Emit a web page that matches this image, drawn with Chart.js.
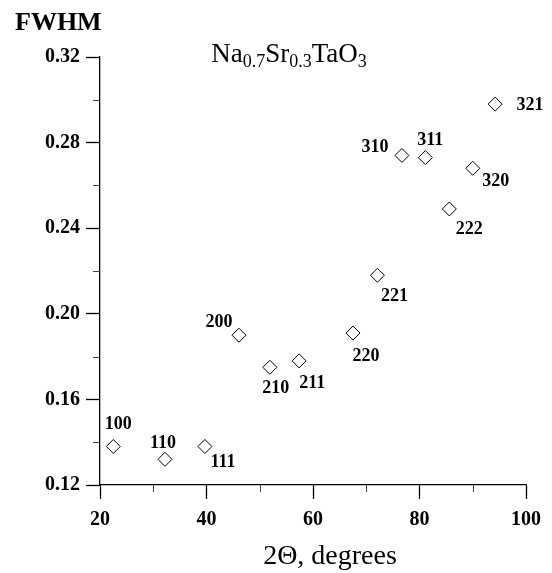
<!DOCTYPE html>
<html>
<head>
<meta charset="utf-8">
<script src="https://cdn.jsdelivr.net/npm/chart.js@4.4.1/dist/chart.umd.min.js"></script>
<style>
  html, body { margin: 0; padding: 0; background: #fff; }
  #wrap { width: 552px; height: 573px; position: relative; }
</style>
</head>
<body>
<div id="wrap"><canvas id="fwhmChart"></canvas></div>
<script>
// Reflection data
const reflections = ["100", "110", "111", "200", "210", "211", "220", "221", "310", "311", "222", "320", "321"];
const twoTheta = [22.5, 32.2, 39.7, 46.1, 51.9, 57.4, 67.5, 72.1, 76.7, 81.1, 85.6, 90.0, 94.2];
const fwhm = [0.138, 0.132, 0.138, 0.190, 0.175, 0.178, 0.191, 0.218, 0.274, 0.273, 0.249, 0.268, 0.298];

// Axis ticks
const xTicks = [20, 40, 60, 80, 100];
const xMinorTicks = [30, 50, 70, 90];
const yTicks = [0.12, 0.16, 0.20, 0.24, 0.28, 0.32];
const yMinorTicks = [0.14, 0.18, 0.22, 0.26, 0.30];

// Label offsets (pixels from the marker centre)
const labelOffsets = [
    [5, -22], [-2, -16], [18, 16], [-20, -13], [6, 21], [13, 22], [13, 23],
    [17, 21], [-27, -8], [5, -17], [20, 20], [23, 13], [35, 1]
];

const SERIF = '"Liberation Serif", "Times New Roman", serif';

// Minor ticks, point labels and titles
const decorPlugin = {
    id: 'decor',
    afterDraw(chart) {
        const ctx = chart.ctx;
        const xs = chart.scales.x, ys = chart.scales.y;
        const area = chart.chartArea;

        ctx.save();
        ctx.strokeStyle = '#444';
        ctx.lineWidth = 1;
        ctx.beginPath();
        xMinorTicks.forEach(v => {
            const px = Math.round(xs.getPixelForValue(v)) + 0.5;
            ctx.moveTo(px, area.bottom);
            ctx.lineTo(px, area.bottom + 7);
        });
        yMinorTicks.forEach(v => {
            const py = Math.round(ys.getPixelForValue(v)) + 0.5;
            ctx.moveTo(area.left, py);
            ctx.lineTo(area.left - 7, py);
        });
        ctx.stroke();

        // point labels
        const meta = chart.getDatasetMeta(0);
        ctx.fillStyle = '#000';
        ctx.font = 'bold 18px ' + SERIF;
        ctx.textAlign = 'center';
        ctx.textBaseline = 'middle';
        meta.data.forEach((pt, i) => {
            ctx.fillText(reflections[i], pt.x + labelOffsets[i][0], pt.y + labelOffsets[i][1]);
        });

        // y axis title
        ctx.font = 'bold 26px ' + SERIF;
        ctx.textAlign = 'left';
        ctx.textBaseline = 'alphabetic';
        ctx.fillText('FWHM', 15, 30);

        // x axis title
        ctx.font = '28px ' + SERIF;
        ctx.textAlign = 'center';
        ctx.fillText('2\u0398, degrees', 330, 564);

        // compound formula with subscripts
        const parts = [["Na", false], ["0.7", true], ["Sr", false], ["0.3", true], ["TaO", false], ["3", true]];
        const big = '27px ' + SERIF, small = '18px ' + SERIF;
        let total = 0;
        parts.forEach(p => { ctx.font = p[1] ? small : big; total += ctx.measureText(p[0]).width; });
        let x = 289 - total / 2;
        ctx.textAlign = 'left';
        parts.forEach(p => {
            ctx.font = p[1] ? small : big;
            ctx.fillText(p[0], x, p[1] ? 67 : 62);
            x += ctx.measureText(p[0]).width;
        });
        ctx.restore();
    }
};

new Chart(document.getElementById('fwhmChart'), {
    type: 'scatter',
    data: {
        datasets: [{
            data: twoTheta.map((t, i) => ({ x: t, y: fwhm[i] })),
            pointStyle: 'rectRot',
            pointRadius: 7,
            pointHoverRadius: 7,
            pointBackgroundColor: '#fff',
            pointBorderColor: '#000',
            pointBorderWidth: 1
        }]
    },
    options: {
        responsive: true,
        maintainAspectRatio: false,
        animation: false,
        layout: { padding: { left: 0, right: 26, top: 57, bottom: 0 } },
        plugins: {
            legend: { display: false },
            tooltip: { enabled: false }
        },
        scales: {
            x: {
                type: 'linear',
                min: 20,
                max: 100,
                afterBuildTicks: scale => { scale.ticks = xTicks.map(v => ({ value: v })); },
                afterFit: scale => { scale.height = 88; },
                border: { display: true, color: '#000', width: 1.3 },
                grid: { drawOnChartArea: false, drawTicks: true, tickLength: 14, tickColor: '#000', tickWidth: 1.3 },
                ticks: {
                    color: '#000',
                    padding: 9,
                    maxRotation: 0,
                    font: { family: SERIF, size: 20, weight: 'bold' },
                    callback: v => String(v)
                }
            },
            y: {
                type: 'linear',
                min: 0.12,
                max: 0.32,
                afterBuildTicks: scale => { scale.ticks = yTicks.map(v => ({ value: v })); },
                afterFit: scale => { scale.width = 100; },
                border: { display: true, color: '#000', width: 1.3 },
                grid: { drawOnChartArea: false, drawTicks: true, tickLength: 14, tickColor: '#000', tickWidth: 1.3 },
                ticks: {
                    color: '#000',
                    padding: 6,
                    font: { family: SERIF, size: 20, weight: 'bold' },
                    callback: v => v.toFixed(2)
                }
            }
        }
    },
    plugins: [decorPlugin]
});
</script>
</body>
</html>
